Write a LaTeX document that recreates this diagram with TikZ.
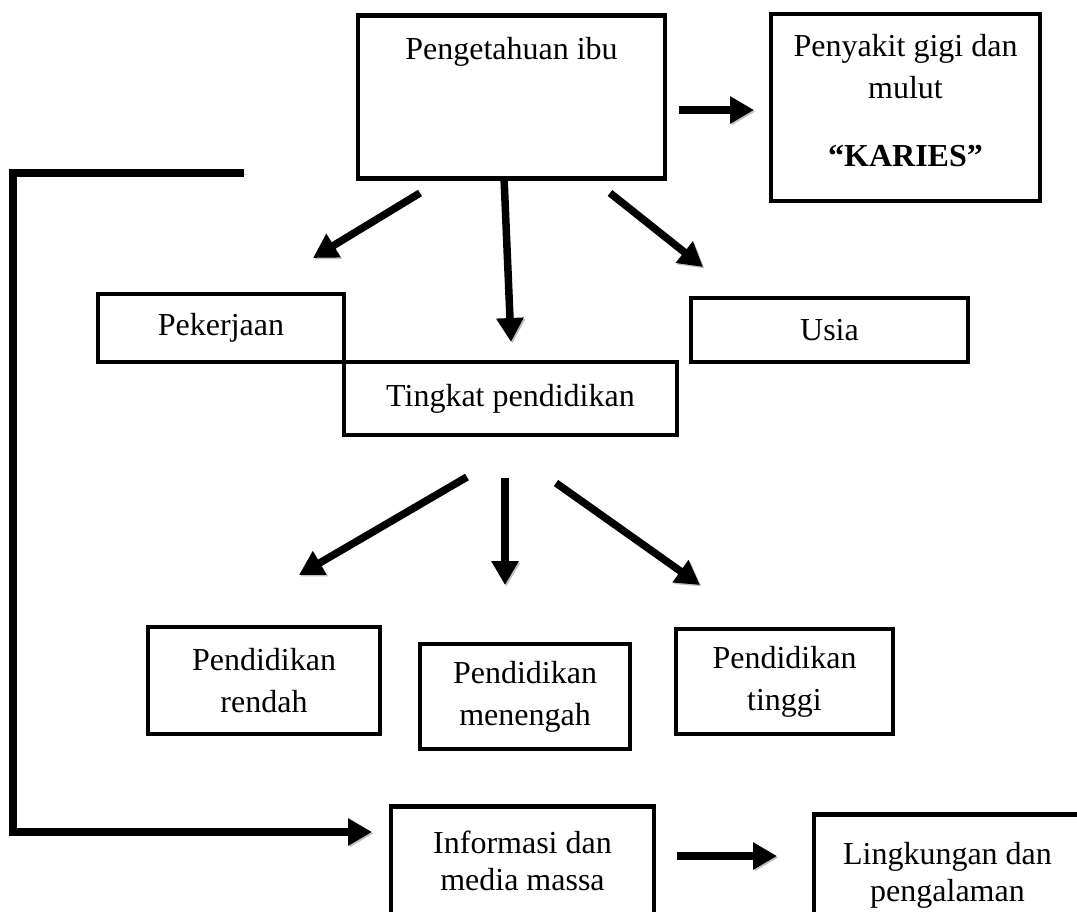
\documentclass[tikz,border=0pt]{standalone}
\usepackage{fontspec}
\setmainfont{Liberation Serif}
\usetikzlibrary{arrows.meta}

\begin{document}
\begin{tikzpicture}[x=1pt,y=-1pt,font=\fontsize{32}{42}\selectfont,align=center,
  >={Triangle[length=24pt,width=26pt]},
  box/.style={draw,line width=4.8pt,inner sep=0pt},
  arr/.style={->,line width=7.5pt,preaction={draw=black!25,transform canvas={shift={(1.5pt,-1.5pt)}}}}]
\clip (0,0) rectangle (1077,912);

\node [box,anchor=north,minimum width=307pt,inner ysep=22pt,text depth=97pt]  (PengetahuanIbu)      at ( 511.5, 13  ) {Pengetahuan ibu};
\node [box,minimum width=269pt,minimum height=187pt]                          (PenyakitGigi)        at ( 905.5,107.5) {Penyakit gigi dan \\ mulut \\[26pt] \textbf{“KARIES”}\rule[-15pt]{0pt}{15pt}};
\node [box,minimum width=246pt,minimum height= 68pt]                          (Pekerjaan)           at ( 221  ,328  ) {Pekerjaan};
\node [box,minimum width=333pt,minimum height= 73pt]                          (TingkatPendidikan)   at ( 510.5,398.5) {Tingkat pendidikan};
\node [box,minimum width=277pt,minimum height= 64pt]                          (Usia)                at ( 829.5,330  ) {Usia};
\node [box,minimum width=232pt,minimum height=107pt]                          (PendidikanRendah)    at ( 264  ,680.5) {Pendidikan \\ rendah};
\node [box,minimum width=210pt,minimum height=105pt]                          (PendidikanMenengah)  at ( 525  ,696.5) {Pendidikan \\ menengah};
\node [box,minimum width=217pt,minimum height=105pt]                          (PendidikanTinggi)    at ( 784.5,681.5) {Pendidikan \\ tinggi};
\node [box,anchor=north,minimum width=263pt,inner ysep=25pt,text depth=120pt,
       font=\fontsize{32}{37}\selectfont]                                     (InformasiMedia)      at ( 522.5,804  ) {Informasi dan \\ media massa};
\node [box,anchor=north,minimum width=267pt,inner ysep=28pt,text depth=120pt,
       font=\fontsize{32}{37}\selectfont]                                     (LingkunganPengalaman) at ( 947.5,812 ) {Lingkungan dan \\ pengalaman};

\coordinate (ibuKanan)    at (679,110);  \coordinate (giginKiri)   at (754,110);
\coordinate (ibuKiri)     at (420,193);  \coordinate (kerjaAtas)   at (313,258);
\coordinate (ibuBawah)    at (504,177);  \coordinate (tingkatAtas) at (511,342);
\coordinate (ibuKananB)   at (610,193);  \coordinate (usiaAtas)    at (703,267);
\coordinate (tingkatKiri) at (467,477);  \coordinate (rendahAtas)  at (299,575);
\coordinate (tingkatBawah) at (505,478); \coordinate (menengahAtas) at (505,585);
\coordinate (tingkatKanan) at (556,483); \coordinate (tinggiAtas)  at (700,585);
\coordinate (garisAwal)   at (244,173);  \coordinate (garisSudut)  at ( 13,173);
\coordinate (infoKiri)    at (372,832);
\coordinate (infoKanan)   at (677,856);  \coordinate (lingkKiri)   at (777,856);

\draw [arr] (ibuKanan)     -- (giginKiri);
\draw [arr] (ibuKiri)      -- (kerjaAtas);
\draw [arr] (ibuBawah)     -- (tingkatAtas);
\draw [arr] (ibuKananB)    -- (usiaAtas);
\draw [arr] (tingkatKiri)  -- (rendahAtas);
\draw [arr] (tingkatBawah) -- (menengahAtas);
\draw [arr] (tingkatKanan) -- (tinggiAtas);
\draw [arr] (garisAwal)    -- (garisSudut) |- (infoKiri);
\draw [arr] (infoKanan)    -- (lingkKiri);
\end{tikzpicture}
\end{document}
